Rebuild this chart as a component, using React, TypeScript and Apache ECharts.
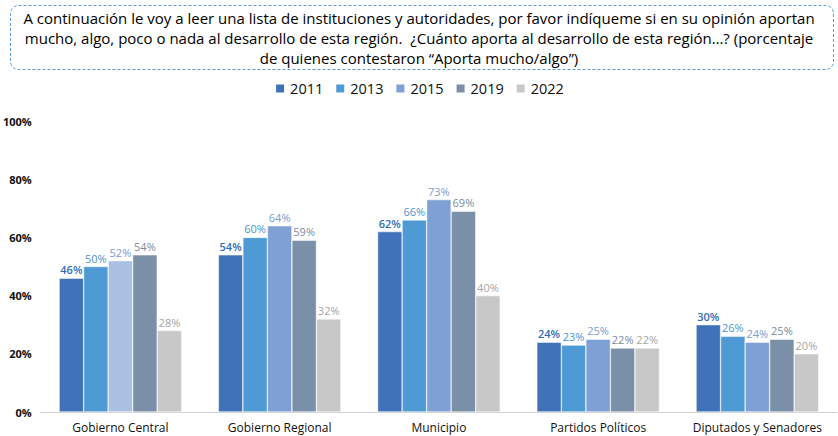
import React, { useEffect, useRef } from "react";
import * as echarts from "echarts";

const categories = ["Gobierno Central", "Gobierno Regional", "Municipio", "Partidos Políticos", "Diputados y Senadores"];
const years = ["2011", "2013", "2015", "2019", "2022"];
const v2011 = [46, 54, 62, 24, 30];
const v2013 = [50, 60, 66, 23, 26];
const v2015 = [52, 64, 73, 25, 24];
const v2019 = [54, 59, 69, 22, 25];
const v2022 = [28, 32, 40, 22, 20];
const yTicks = [0, 20, 40, 60, 80, 100];
const titleLines = [
  "A continuación le voy a leer una lista de instituciones y autoridades, por favor indíqueme si en su opinión aportan",
  "mucho, algo, poco o nada al desarrollo de esta región.  ¿Cuánto aporta al desarrollo de esta región…? (porcentaje",
  "de quienes contestaron “Aporta mucho/algo”)",
];

const barColors = ["#3f72b8", "#4e9ad4", "#7fa0d4", "#7a8fa8", "#c8c8c8"];
const labelColors = ["#2f6db5", "#4a96d2", "#7b9dd3", "#7a8ca3", "#a6a6a6"];
const FONT = "'Open Sans', 'Noto Sans', sans-serif";

export default function App() {
  const ref = useRef<HTMLDivElement>(null);
  useEffect(() => {
    const chart = echarts.init(ref.current!, null, { renderer: "svg" });
    const all = [v2011, v2013, v2015, v2019, v2022];
    const series = years.map((y, i) => ({
      name: y,
      type: "bar",
      barGap: "0%",
      barCategoryGap: "23%",
      data: all[i].map((v, j) =>
        i === 2 && j === 0 ? { value: v, itemStyle: { color: "#a9c0e2" } } : v
      ),
      itemStyle: { color: barColors[i], borderColor: "#ffffff", borderWidth: 0.5 },
      label: {
        show: true,
        position: "top",
        distance: 3,
        formatter: "{c}%",
        color: labelColors[i],
        fontSize: 11,
        fontFamily: FONT,
        fontWeight: i === 0 ? 600 : 400,
      },
    }));
    chart.setOption({
      animation: false,
      textStyle: { fontFamily: FONT },
      legend: {
        data: years,
        top: 76,
        left: "center",
        itemWidth: 10,
        itemHeight: 10,
        itemGap: 11,
        icon: "rect",
        textStyle: { fontSize: 14.5, color: "#111", fontFamily: FONT },
      },
      graphic: [
        {
          type: "rect",
          shape: { x: 10.5, y: 5.5, width: 823, height: 64, r: 8 },
          style: { fill: "none", stroke: "#5b9bd5", lineWidth: 1, lineDash: [3, 2] },
        },
        ...titleLines.map((t, i) => ({
          type: "text",
          x: 419,
          y: 18 + i * 20,
          style: {
            text: t,
            fill: "#000",
            font: `15px ${FONT}`,
            textAlign: "center",
            textVerticalAlign: "middle",
          },
        })),
      ],
      grid: { left: 39, right: 1, top: 121, bottom: 24, containLabel: false },
      xAxis: {
        type: "category",
        data: categories,
        axisLine: { lineStyle: { color: "#d0d0d0" } },
        axisTick: { show: false },
        axisLabel: { interval: 0, color: "#111", fontSize: 12, margin: 9, fontFamily: FONT },
      },
      yAxis: {
        type: "value",
        min: yTicks[0],
        max: yTicks[yTicks.length - 1],
        interval: 20,
        splitLine: { show: false },
        axisLine: { show: false },
        axisTick: { show: false },
        axisLabel: { formatter: "{value}%", color: "#111", fontSize: 11, fontWeight: "bold", margin: 9, fontFamily: FONT },
      },
      series,
    });
    return () => chart.dispose();
  }, []);
  return <div ref={ref} style={{ position: "fixed", left: 0, top: 0, width: 838, height: 436, background: "#fff" }} />;
}
